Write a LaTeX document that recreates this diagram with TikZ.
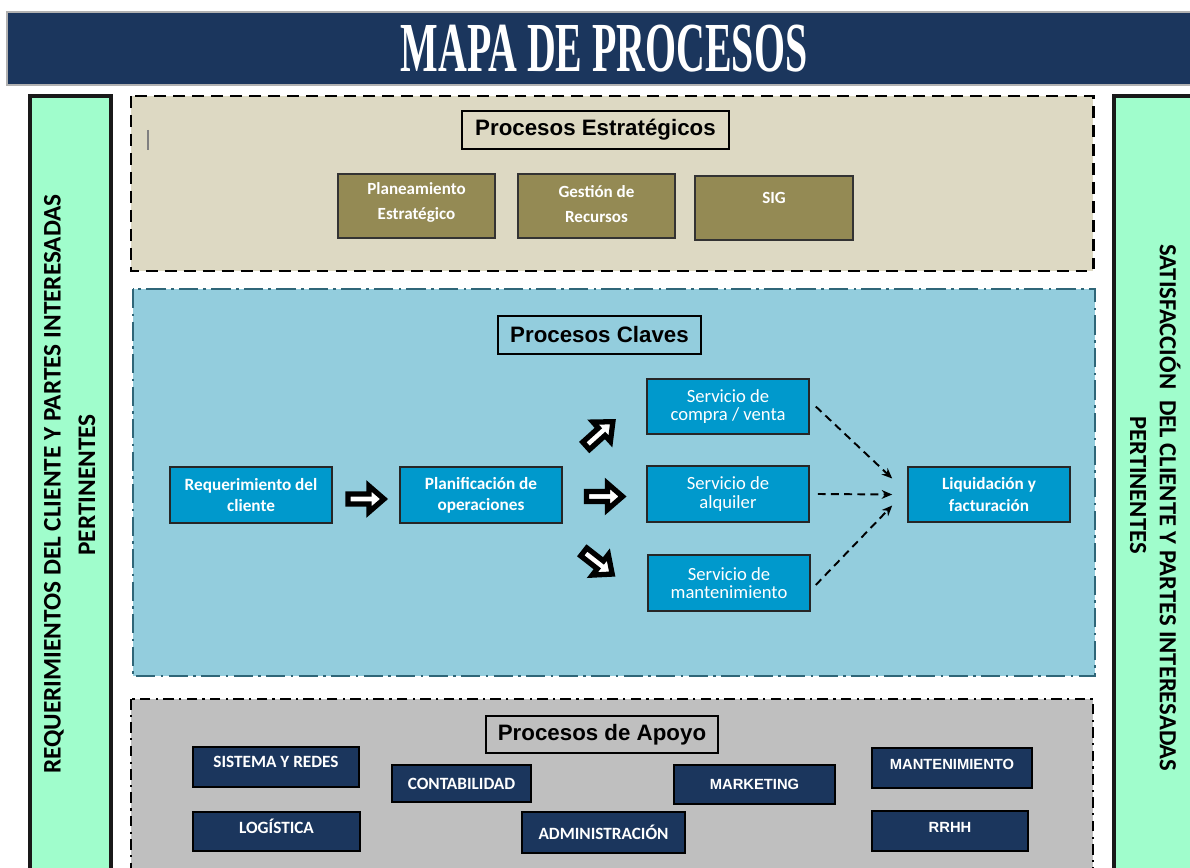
\documentclass[tikz,border=0pt]{standalone}
\usepackage{fontspec}
\usepackage{graphicx}
\setmainfont{Carlito}
\newfontfamily\hdfont{Liberation Sans}
\newfontfamily\ttlfont{Liberation Serif}
\usetikzlibrary{calc,arrows.meta}
\definecolor{navy}{HTML}{1B365D}
\definecolor{mint}{HTML}{A0FDCC}
\definecolor{sand}{HTML}{DDD9C3}
\definecolor{olive}{HTML}{948A54}
\definecolor{skyfill}{HTML}{93CDDD}
\definecolor{keyblue}{HTML}{0099CC}
\definecolor{teal}{HTML}{2F6678}
\definecolor{greyfill}{HTML}{BFBFBF}
\tikzset{
  hdbox/.style={draw=black, line width=0.7pt, font=\hdfont\bfseries\fontsize{12.7}{14}\selectfont, inner sep=0pt},
  obox/.style={draw=black!80, line width=0.9pt, fill=olive, inner sep=0pt},
  otext/.style={text=white, font=\bfseries\fontsize{9.7}{14}\selectfont, align=center, inner sep=0pt},
  kbox/.style={draw=black!85, line width=0.9pt, fill=keyblue, text=white, align=center, inner sep=0pt, minimum width=3.24cm, minimum height=1.12cm},
  kbold/.style={font=\bfseries\fontsize{9.8}{12}\selectfont},
  kreg/.style={font=\fontsize{10.6}{10.3}\selectfont},
  sbox/.style={draw=black, line width=1pt, fill=navy, text=white, align=center, inner sep=0pt, font=\bfseries\fontsize{9.8}{12}\selectfont},
  sarial/.style={font=\hdfont\bfseries\fontsize{8.4}{10}\selectfont},
  sidetext/.style={font=\bfseries\fontsize{14.4}{16}\selectfont, inner sep=0pt},
  dasharrow/.style={draw=black, line width=1.1pt, dash pattern=on 4.5pt off 3pt, -{Stealth[length=6pt,width=5pt]}},
  pics/barrow/.style={code={
    \draw[line width=3pt, fill=white, line join=miter, miter limit=10]
      (-18,-5) -- (3,-5) -- (3,-13) -- (18,0) -- (3,13) -- (3,5) -- (-18,5) -- cycle;}}
}
\begin{document}
\begin{tikzpicture}[x=0.02cm,y=-0.02cm]
\clip (0,0) rectangle (1190,868);
\fill[white] (0,0) rectangle (1190,868);

% title band
\draw[fill=navy, draw=gray!60, line width=0.6pt] (7,12) rectangle (1196,85);
\node[text=white, inner sep=0pt] (title) at (604,49)
  {\scalebox{0.567}[1]{\ttlfont\bfseries\fontsize{40}{40}\selectfont MAPA DE PROCESOS}};

% side bars
\draw[fill=mint, draw=black!90, line width=1.8pt] (30,96) rectangle (111,880);
\draw[fill=mint, draw=black!90, line width=1.8pt] (1114,96) rectangle (1200,880);
\node[sidetext, rotate=90] (lreq1) at (54,484) {REQUERIMIENTOS DEL CLIENTE Y PARTES INTERESADAS};
\node[sidetext, rotate=90] (lreq2) at (87,485) {PERTINENTES};
\node[sidetext, rotate=-90, font=\bfseries\fontsize{14}{16}\selectfont] (rsat1) at (1170,508) {SATISFACCIÓN\ \ DEL CLIENTE Y PARTES INTERESADAS};
\node[sidetext, rotate=-90, font=\bfseries\fontsize{14}{16}\selectfont] (rsat2) at (1138,485) {PERTINENTES};

% strategic area
\draw[fill=sand, draw=black, line width=1.7pt, dash pattern=on 6.8pt off 4pt] (131,96) rectangle (1093,271);
\draw[gray, line width=0.6pt] (148,130) -- (148,150);
\node[hdbox, fill=sand, minimum width=5.34cm, minimum height=0.76cm] (pest) at (595.5,130) {Procesos Estratégicos};
\node[obox, minimum width=3.14cm, minimum height=1.28cm] (plane) at (416.5,206) {};
\node[otext] (planeT) at (416.5,202.5) {Planeamiento\\Estratégico};
\node[obox, minimum width=3.14cm, minimum height=1.28cm] (gest) at (596.5,206) {};
\node[otext] (gestT) at (596.5,204) {Gestión de\\Recursos};
\node[obox, minimum width=3.16cm, minimum height=1.28cm] (sig) at (774,208) {};
\node[otext] (sigT) at (774,198) {SIG};

% key area
\draw[fill=skyfill, draw=teal, line width=1.2pt, dash pattern=on 11pt off 3pt on 1.5pt off 3pt] (133,289) rectangle (1095,676);
\node[hdbox, fill=skyfill, minimum width=4.06cm, minimum height=0.76cm] (pcla) at (599.5,335) {Procesos Claves};
\node[kbox, kbold] (req) at (251,495) {Requerimiento del\\cliente};
\node[kbox, kbold] (plan) at (481,495) {Planificación de\\operaciones};
\node[kbox, kreg, minimum height=1.1cm] (compra) at (728,406.5) {Servicio de\\compra / venta};
\node[kbox, kreg] (alq) at (728,494) {Servicio de\\alquiler};
\node[kbox, kreg] (mant) at (729,583) {Servicio de\\mantenimiento};
\node[kbox, kbold, minimum height=1.1cm] (liq) at (989,494.5) {Liquidación y\\facturación};

\pic at ($(req.east)!0.5!(plan.west)+(0,4)$) {barrow};
\pic[rotate=42] at ($(plan.east)!0.5!(compra.west)+(-5,-17)$) {barrow};
\pic at ($(plan.east)!0.5!(alq.west)+(0,2)$) {barrow};
\pic[rotate=-38] at ($(plan.east)!0.5!(mant.west)+(-7,24)$) {barrow};

\draw[dasharrow] ($(compra.east)+(6,0)$) -- ($(liq.west)+(-15,-16)$);
\draw[dasharrow] ($(alq.east)+(8,0)$) -- ($(liq.west)+(-15,0)$);
\draw[dasharrow] ($(mant.east)+(5,2)$) -- ($(liq.west)+(-15,11)$);

% support area
\draw[fill=greyfill, draw=black, line width=1.2pt, dash pattern=on 6pt off 3pt on 1.3pt off 3pt] (131,699) rectangle (1093,880);
\node[hdbox, fill=greyfill, minimum width=4.64cm, minimum height=0.74cm] (papo) at (602,734.5) {Procesos de Apoyo};
\node[sbox, minimum width=3.32cm, minimum height=0.8cm] (sis) at (276,767) {SISTEMA Y REDES\\[-6pt]\mbox{}};
\node[sbox, minimum width=2.78cm, minimum height=0.74cm] (cont) at (461.5,783.5) {CONTABILIDAD};
\node[sbox, sarial, minimum width=3.22cm, minimum height=0.78cm] (mkt) at (754.5,784.5) {MARKETING};
\node[sbox, sarial, minimum width=3.2cm, minimum height=0.8cm] (mnt) at (952,768) {MANTENIMIENTO\\[-6pt]\mbox{}};
\node[sbox, minimum width=3.34cm, minimum height=0.78cm] (log) at (276.5,831.5) {LOGÍSTICA\\[-6pt]\mbox{}};
\node[sbox, minimum width=3.26cm, minimum height=0.82cm] (adm) at (603.5,832.5) {ADMINISTRACIÓN};
\node[sbox, sarial, minimum width=3.12cm, minimum height=0.8cm] (rrhh) at (950,831) {RRHH\\[-6pt]\mbox{}};
\end{tikzpicture}
\end{document}
